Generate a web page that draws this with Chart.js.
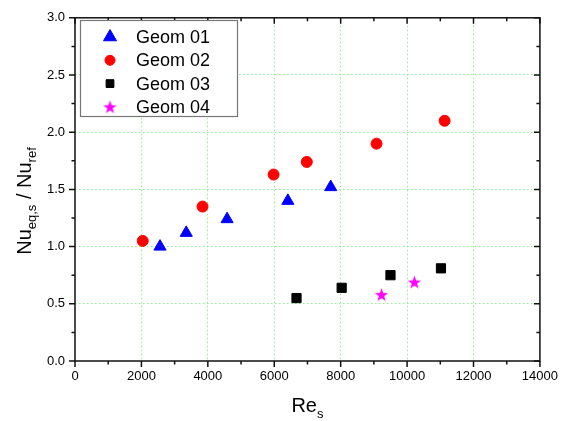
<!DOCTYPE html>
<html>
<head>
<meta charset="utf-8">
<script src="https://cdn.jsdelivr.net/npm/chart.js@4.4.0/dist/chart.umd.min.js"></script>
<style>
  body { margin: 0; background: #fff; }
  #wrap { width: 566px; height: 421px; position: relative; }
</style>
</head>
<body>
<div id="wrap"><canvas id="chart"></canvas></div>
<script>
// data
const seriesNames = ['Geom 01', 'Geom 02', 'Geom 03', 'Geom 04'];
const geom01Re = [2560, 3350, 4580, 6410, 7700];
const geom01Nu = [1.00, 1.12, 1.24, 1.40, 1.52];
const geom02Re = [2040, 3840, 5980, 6980, 9080, 11130];
const geom02Nu = [1.05, 1.35, 1.63, 1.74, 1.90, 2.10];
const geom03Re = [6670, 8030, 9500, 11020];
const geom03Nu = [0.55, 0.64, 0.75, 0.81];
const geom04Re = [9230, 10220];
const geom04Nu = [0.58, 0.69];
const xTicks = [0, 2000, 4000, 6000, 8000, 10000, 12000, 14000];
const yTicks = [0.0, 0.5, 1.0, 1.5, 2.0, 2.5, 3.0];

const FONT = "'Liberation Sans', Arial, sans-serif";
Chart.defaults.font.family = FONT;
Chart.defaults.font.size = 13;
Chart.defaults.color = '#000';

function pts(xs, ys) {
  return xs.map((x, i) => ({ x: x, y: ys[i] }));
}

// filled 5 point star for Geom 04
function starImage(color, outer, inner) {
  const size = 15;
  const c = document.createElement('canvas');
  c.width = size; c.height = size;
  const g = c.getContext('2d');
  g.fillStyle = color;
  g.beginPath();
  for (let i = 0; i < 10; i++) {
    const r = i % 2 ? inner : outer;
    const a = -Math.PI / 2 + i * Math.PI / 5;
    g.lineTo(size / 2 + r * Math.cos(a), size / 2 + 0.6 + r * Math.sin(a));
  }
  g.closePath();
  g.fill();
  return c;
}
const star = starImage('#ff00ff', 7, 2.8);

// frame + ticks like the original plot (out on left/bottom, in on top/right)
const frameTicks = {
  id: 'frameTicks',
  afterDraw(chart) {
    const { ctx, chartArea: a } = chart;
    const xs = chart.scales.x, ys = chart.scales.y;
    ctx.save();
    ctx.strokeStyle = '#111';
    ctx.lineWidth = 1.5;
    ctx.strokeRect(a.left, a.top, a.right - a.left, a.bottom - a.top);
    ctx.beginPath();
    const xv = xs.ticks.map(t => t.value);
    xv.forEach((v, i) => {
      const px = xs.getPixelForValue(v);
      ctx.moveTo(px, a.bottom); ctx.lineTo(px, a.bottom + 6);
      ctx.moveTo(px, a.top); ctx.lineTo(px, a.top + 6);
      if (i < xv.length - 1) {
        const mx = xs.getPixelForValue((v + xv[i + 1]) / 2);
        ctx.moveTo(mx, a.bottom); ctx.lineTo(mx, a.bottom + 3.5);
        ctx.moveTo(mx, a.top); ctx.lineTo(mx, a.top + 3.5);
      }
    });
    const yv = ys.ticks.map(t => t.value);
    yv.forEach((v, i) => {
      const py = ys.getPixelForValue(v);
      ctx.moveTo(a.left, py); ctx.lineTo(a.left - 6, py);
      ctx.moveTo(a.right, py); ctx.lineTo(a.right - 6, py);
      if (i < yv.length - 1) {
        const my = ys.getPixelForValue((v + yv[i + 1]) / 2);
        ctx.moveTo(a.left, my); ctx.lineTo(a.left - 3.5, my);
        ctx.moveTo(a.right, my); ctx.lineTo(a.right - 3.5, my);
      }
    });
    ctx.stroke();
    ctx.restore();
  }
};

// legend box inside the plot
const legendBox = {
  id: 'legendBox',
  afterDraw(chart) {
    const ctx = chart.ctx;
    ctx.save();
    ctx.fillStyle = '#fff';
    ctx.fillRect(80, 20, 157, 96);
    ctx.strokeStyle = '#777';
    ctx.lineWidth = 1.2;
    ctx.strokeRect(80.5, 20.5, 157, 96);
    chart.data.datasets.forEach((ds, i) => {
      const y = 37 + i * 23.3;
      ctx.fillStyle = ds.backgroundColor;
      ctx.strokeStyle = ds.borderColor;
      ctx.lineWidth = 1;
      Chart.helpers.drawPoint(ctx, {
        pointStyle: ds.pointStyle,
        radius: ds.legendRadius,
        borderWidth: 1,
        rotation: 0
      }, 110, y);
      ctx.fillStyle = '#000';
      ctx.font = '18px ' + FONT;
      ctx.textBaseline = 'middle';
      ctx.textAlign = 'left';
      ctx.fillText(ds.label, 136, y + 1);
    });
    ctx.restore();
  }
};

// axis titles with subscripts
function drawParts(ctx, parts, cx, baseY) {
  let total = 0;
  parts.forEach(p => { ctx.font = p.size + 'px ' + FONT; p.w = ctx.measureText(p.t).width; total += p.w; });
  let x = cx - total / 2;
  parts.forEach(p => {
    ctx.font = p.size + 'px ' + FONT;
    ctx.fillText(p.t, x, baseY + p.dy);
    x += p.w;
  });
}
const axisTitles = {
  id: 'axisTitles',
  afterDraw(chart) {
    const { ctx, chartArea: a } = chart;
    ctx.save();
    ctx.fillStyle = '#000';
    ctx.textBaseline = 'alphabetic';
    ctx.textAlign = 'left';
    drawParts(ctx, [
      { t: 'Re', size: 20, dy: 0 },
      { t: 's', size: 13, dy: 6 }
    ], (a.left + a.right) / 2, 412);
    ctx.translate(31, 201);
    ctx.rotate(-Math.PI / 2);
    drawParts(ctx, [
      { t: 'Nu', size: 20, dy: 0 },
      { t: 'eq,s', size: 13, dy: 5 },
      { t: ' / Nu', size: 20, dy: 0 },
      { t: 'ref', size: 13, dy: 5 }
    ], 0, 0);
    ctx.restore();
  }
};

function gridColor(ctx) {
  const s = ctx.scale;
  const v = ctx.tick ? ctx.tick.value : null;
  if (v === s.min || v === s.max) return 'rgba(0,0,0,0)';
  return '#8cf08c';
}

const ctx = document.getElementById('chart');
new Chart(ctx, {
  type: 'scatter',
  data: {
    datasets: [{
      label: seriesNames[0],
      data: pts(geom01Re, geom01Nu),
      pointStyle: 'triangle',
      pointRadius: 7,
      legendRadius: 7.5,
      backgroundColor: '#0000ff',
      borderColor: '#0000ff',
      borderWidth: 1
    }, {
      label: seriesNames[1],
      data: pts(geom02Re, geom02Nu),
      pointStyle: 'circle',
      pointRadius: 5.5,
      legendRadius: 5,
      backgroundColor: '#ff0000',
      borderColor: '#ff0000',
      borderWidth: 1
    }, {
      label: seriesNames[2],
      data: pts(geom03Re, geom03Nu),
      pointStyle: 'rect',
      pointRadius: 6.5,
      legendRadius: 5.5,
      backgroundColor: '#000000',
      borderColor: '#000000',
      borderWidth: 1
    }, {
      label: seriesNames[3],
      data: pts(geom04Re, geom04Nu),
      pointStyle: star,
      pointRadius: 7,
      legendRadius: 7,
      backgroundColor: '#ff00ff',
      borderColor: '#ff00ff',
      borderWidth: 0
    }]
  },
  options: {
    responsive: true,
    maintainAspectRatio: false,
    animation: false,
    events: [],
    layout: { padding: { top: 17, right: 22, left: 0, bottom: 0 } },
    plugins: {
      legend: { display: false },
      tooltip: { enabled: false }
    },
    scales: {
      x: {
        type: 'linear',
        min: 0,
        max: 14000,
        afterBuildTicks: s => { s.ticks = xTicks.map(v => ({ value: v })); },
        afterFit: s => { s.height = 60; },
        ticks: { padding: 8, callback: v => String(v), maxRotation: 0 },
        grid: { color: gridColor, lineWidth: 1, drawTicks: false },
        border: { display: false, dash: [1.5, 2.5] }
      },
      y: {
        type: 'linear',
        min: 0,
        max: 3,
        afterBuildTicks: s => { s.ticks = yTicks.map(v => ({ value: v })); },
        afterFit: s => { s.width = 75; },
        ticks: { padding: 10, callback: v => Number(v).toFixed(1) },
        grid: { color: gridColor, lineWidth: 1, drawTicks: false },
        border: { display: false, dash: [1.5, 2.5] }
      }
    }
  },
  plugins: [frameTicks, legendBox, axisTitles]
});
</script>
</body>
</html>
